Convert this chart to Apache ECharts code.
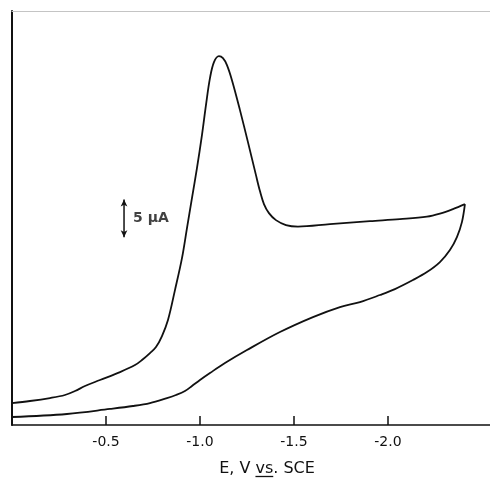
<!DOCTYPE html>
<html>
<head>
<meta charset="utf-8">
<script src="https://cdn.jsdelivr.net/npm/echarts@6/dist/echarts.min.js"></script>
<style>
html,body{margin:0;padding:0;background:#fff;}
#chart{width:490px;height:478px;}
</style>
</head>
<body>
<div id="chart"></div>
<script>
// Potential (V vs. SCE) and current (μA)
var forwardE = [0, -0.0957, -0.2021, -0.2819, -0.3351, -0.3883, -0.4681, -0.5745, -0.6543, -0.6915, -0.7340, -0.7660, -0.7979, -0.8298, -0.8670, -0.9043, -0.9309, -0.9574, -0.9840, -1.0106, -1.0319, -1.0532, -1.0745, -1.1011, -1.1223, -1.1436, -1.1702, -1.2128, -1.2553, -1.2979, -1.3191, -1.3404, -1.3670, -1.4043, -1.4574, -1.5213, -1.6915, -1.9043, -2.0638, -2.2074, -2.2766, -2.3457, -2.4096];
var forwardI = [2.89, 3.16, 3.55, 3.95, 4.47, 5.13, 5.92, 6.97, 7.89, 8.55, 9.47, 10.26, 11.71, 13.82, 17.76, 21.97, 25.92, 29.87, 33.82, 38.16, 42.11, 45.66, 47.76, 48.55, 48.29, 47.37, 45.39, 41.45, 37.24, 32.89, 30.79, 29.08, 27.89, 26.97, 26.32, 26.12, 26.45, 26.84, 27.11, 27.43, 27.83, 28.42, 29.08];
var reverseE = [-2.4096, -2.3936, -2.3670, -2.3298, -2.2766, -2.2074, -2.1330, -2.0372, -1.9574, -1.8511, -1.7447, -1.6011, -1.4255, -1.2500, -1.1330, -1.0532, -1.0000, -0.9574, -0.9202, -0.8723, -0.8245, -0.7340, -0.6436, -0.5213, -0.2926, 0];
var reverseI = [29.08, 26.71, 24.74, 23.03, 21.45, 20.13, 19.08, 17.89, 17.11, 16.18, 15.53, 14.21, 12.24, 9.87, 8.16, 6.84, 5.92, 5.13, 4.47, 3.95, 3.55, 2.89, 2.50, 2.11, 1.45, 1.05];
var tickValues = [-0.5, -1.0, -1.5, -2.0];
var tickLabels = ['-0.5', '-1.0', '-1.5', '-2.0'];
var scaleBarE = -0.596;
var scaleBarI = [24.7, 29.7]; // 5 μA
var scaleBarLabel = '5 μA';
var axisTitle = ['E, V ', 'vs', '. SCE'];

var chart = echarts.init(document.getElementById('chart'));
function pairs(xs, ys){ return xs.map(function(x,i){ return [x, ys[i]]; }); }

var titleFont = '16px "DejaVu Sans"';
var ctx = document.createElement('canvas').getContext('2d');
ctx.font = titleFont;
var wA = ctx.measureText(axisTitle[0]).width;
var wB = ctx.measureText(axisTitle[1]).width;
var wAll = ctx.measureText(axisTitle.join('')).width;
var titleCx = 267, titleCy = 469;
var uX0 = titleCx - wAll/2 + wA;

var axisCommon = {
  type: 'value', min: -2.543, max: 0, inverse: true,
  splitLine: {show: false}
};

chart.setOption({
  animation: false,
  backgroundColor: '#fff',
  grid: {left: 12, right: 0, top: 11, bottom: 53},
  xAxis: [
    Object.assign({}, axisCommon, {
      position: 'bottom',
      axisLine: {show: true, onZero: false, lineStyle: {color: '#111', width: 1.5}},
      axisTick: {show: true, inside: true, length: 9, customValues: tickValues, lineStyle: {color: '#111', width: 1.5}},
      axisLabel: {customValues: tickValues, margin: 10, fontSize: 14, fontFamily: 'DejaVu Sans', color: '#111',
        formatter: function(v){ var i = tickValues.indexOf(v); return i >= 0 ? tickLabels[i] : ''; }}
    }),
    Object.assign({}, axisCommon, {
      position: 'top',
      axisLine: {show: true, onZero: false, lineStyle: {color: '#c4c4c4', width: 1.2}},
      axisTick: {show: false}, axisLabel: {show: false}
    })
  ],
  yAxis: {
    type: 'value', min: 0, max: 54.5,
    axisLine: {show: true, onZero: false, lineStyle: {color: '#111', width: 2}},
    axisTick: {show: false}, axisLabel: {show: false}, splitLine: {show: false}
  },
  series: [
    {type: 'line', data: pairs(forwardE, forwardI), smooth: 0.35, symbol: 'none',
     lineStyle: {color: '#111', width: 1.8}},
    {type: 'line', data: pairs(reverseE, reverseI), smooth: 0.35, symbol: 'none',
     lineStyle: {color: '#111', width: 1.8}},
    {type: 'line', data: [
        {value: [scaleBarE, scaleBarI[0]], symbolRotate: 180},
        {value: [scaleBarE, scaleBarI[1]], symbolRotate: 0}],
     symbol: 'arrow', symbolSize: [5, 7], itemStyle: {color: '#111'},
     lineStyle: {color: '#111', width: 1.5}},
    {type: 'scatter', data: [[scaleBarE, (scaleBarI[0] + scaleBarI[1]) / 2]], symbolSize: 0,
     label: {show: true, position: 'right', distance: 9, formatter: scaleBarLabel,
       fontSize: 14, fontWeight: 'bold', fontFamily: 'DejaVu Sans', color: '#111'}}
  ],
  graphic: [
    {type: 'text', x: titleCx, y: titleCy,
     style: {text: axisTitle.join(''), font: titleFont, fill: '#111', align: 'center', verticalAlign: 'middle'}},
    {type: 'line', shape: {x1: uX0, y1: 476.5, x2: uX0 + wB, y2: 476.5},
     style: {stroke: '#111', lineWidth: 1.3}}
  ]
});
</script>
</body>
</html>
